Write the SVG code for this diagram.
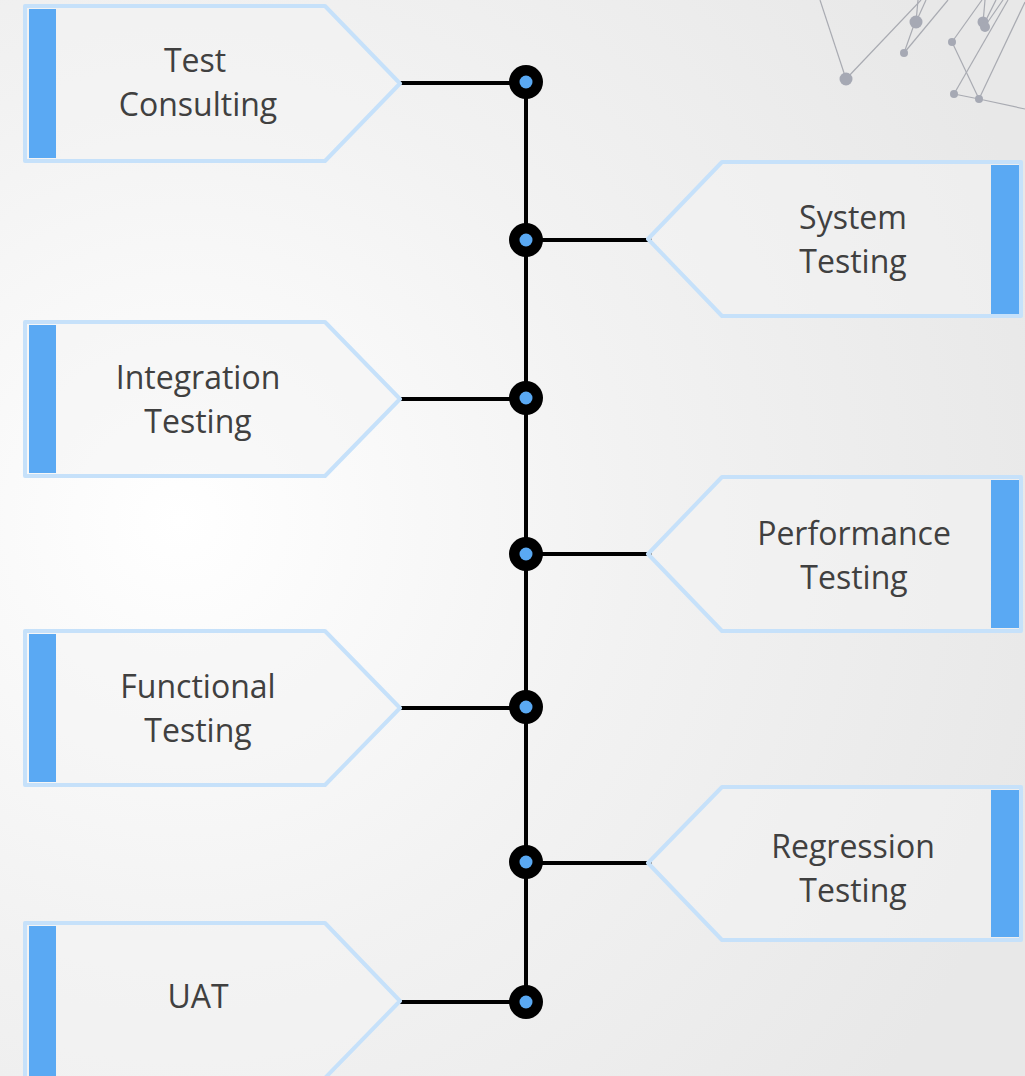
<svg xmlns="http://www.w3.org/2000/svg" width="1025" height="1076" viewBox="0 0 1025 1076">
<defs>
<radialGradient id="bg" cx="180" cy="520" r="900" gradientUnits="userSpaceOnUse">
<stop offset="0" stop-color="#FFFFFF"/>
<stop offset="0.5" stop-color="#F2F2F2"/>
<stop offset="1" stop-color="#E8E8E8"/>
</radialGradient>
<style>
.box{fill:#F4F4F4;fill-opacity:0.5;stroke:#C6E1FA;stroke-width:4;stroke-linejoin:round}
.bar{fill:#5AA9F3}
.lbl{font-family:"Open Sans","Noto Sans",sans-serif;font-size:32px;fill:#404040;text-anchor:middle}
.wire{stroke:#000;stroke-width:4;fill:none;stroke-linecap:round}
.hub{fill:#000}
.hubin{fill:#5AA9F3}
.net line{stroke:#A9ABB2;stroke-width:1.2}
.net circle{fill:#A6A9B4}
</style>
</defs>
<rect width="1025" height="1076" fill="url(#bg)"/>
<g class="net">
<line x1="846" y1="79" x2="820" y2="0"/>
<line x1="846" y1="79" x2="921" y2="0"/>
<line x1="916" y1="22" x2="918" y2="0"/>
<line x1="916" y1="22" x2="926" y2="0"/>
<line x1="904" y1="53" x2="915" y2="22"/>
<line x1="904" y1="53" x2="948" y2="0"/>
<line x1="952" y1="42" x2="982" y2="0"/>
<line x1="952" y1="42" x2="979" y2="99"/>
<line x1="983" y1="23" x2="985" y2="0"/>
<line x1="984" y1="24" x2="996" y2="0"/>
<line x1="985" y1="26" x2="1003" y2="0"/>
<line x1="954" y1="94" x2="1008" y2="0"/>
<line x1="979" y1="99" x2="1025" y2="2"/>
<line x1="954" y1="94" x2="979" y2="99"/>
<line x1="979" y1="99" x2="1025" y2="109"/>
<circle cx="846" cy="79" r="6.5"/>
<circle cx="916" cy="22" r="6.5"/>
<circle cx="904" cy="53" r="4"/>
<circle cx="952" cy="42" r="4"/>
<circle cx="983" cy="22" r="5.5"/>
<circle cx="985" cy="27" r="5"/>
<circle cx="954" cy="94" r="4"/>
<circle cx="979" cy="99" r="4"/>
</g>
<g id="connectors">
<line class="wire" x1="526" y1="82" x2="526" y2="1001"/>
<line class="wire" x1="400" y1="83" x2="526" y2="83"/>
<line class="wire" x1="526" y1="240" x2="650" y2="240"/>
<line class="wire" x1="400" y1="399" x2="526" y2="399"/>
<line class="wire" x1="526" y1="554" x2="650" y2="554"/>
<line class="wire" x1="400" y1="708" x2="526" y2="708"/>
<line class="wire" x1="526" y1="863" x2="650" y2="863"/>
<line class="wire" x1="400" y1="1002" x2="526" y2="1002"/>
<g class="hubs">
<circle class="hub" cx="526" cy="82" r="17"/><circle class="hubin" cx="526" cy="82" r="6.5"/>
<circle class="hub" cx="526" cy="240" r="17"/><circle class="hubin" cx="526" cy="240" r="6.5"/>
<circle class="hub" cx="526" cy="398" r="17"/><circle class="hubin" cx="526" cy="398" r="6.5"/>
<circle class="hub" cx="526" cy="554" r="17"/><circle class="hubin" cx="526" cy="554" r="6.5"/>
<circle class="hub" cx="526" cy="707" r="17"/><circle class="hubin" cx="526" cy="707" r="6.5"/>
<circle class="hub" cx="526" cy="862" r="17"/><circle class="hubin" cx="526" cy="862" r="6.5"/>
<circle class="hub" cx="526" cy="1002" r="17"/><circle class="hubin" cx="526" cy="1002" r="6.5"/>
</g>
</g>
<g id="test-consulting">
<path class="box" d="M25,6 H325 L400,83.5 L325,161 H25 Z"/>
<rect class="bar" x="29" y="9" width="27" height="149"/>
<text class="lbl" x="195" y="72">Test</text>
<text class="lbl" x="198" y="116">Consulting</text>
</g>
<g id="system-testing">
<path class="box" d="M1021,162 H722 L648,239 L722,316 H1021 Z"/>
<rect class="bar" x="991" y="165" width="28" height="149"/>
<text class="lbl" x="853" y="229">System</text>
<text class="lbl" x="853" y="273">Testing</text>
</g>
<g id="integration-testing">
<path class="box" d="M25,322 H325 L400,399 L325,476 H25 Z"/>
<rect class="bar" x="29" y="325" width="27" height="148"/>
<text class="lbl" x="198" y="389">Integration</text>
<text class="lbl" x="198" y="433">Testing</text>
</g>
<g id="performance-testing">
<path class="box" d="M1021,477 H722 L648,554 L722,631 H1021 Z"/>
<rect class="bar" x="991" y="480" width="28" height="148"/>
<text class="lbl" x="854" y="545">Performance</text>
<text class="lbl" x="854" y="589">Testing</text>
</g>
<g id="functional-testing">
<path class="box" d="M25,631 H325 L400,708 L325,785 H25 Z"/>
<rect class="bar" x="29" y="634" width="27" height="148"/>
<text class="lbl" x="198" y="698">Functional</text>
<text class="lbl" x="198" y="742">Testing</text>
</g>
<g id="regression-testing">
<path class="box" d="M1021,787 H722 L648,863 L722,940 H1021 Z"/>
<rect class="bar" x="991" y="790" width="28" height="147"/>
<text class="lbl" x="853" y="858">Regression</text>
<text class="lbl" x="853" y="902">Testing</text>
</g>
<g id="uat">
<path class="box" d="M25,923 H325 L400,1001 L325,1078 H25 Z"/>
<rect class="bar" x="29" y="926" width="27" height="150"/>
<text class="lbl" x="198" y="1008">UAT</text>
</g>
</svg>
